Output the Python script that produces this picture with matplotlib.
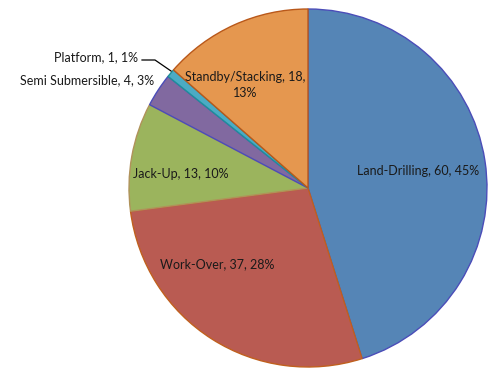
import matplotlib.pyplot as plt

categories = ['Land-Drilling', 'Work-Over', 'Jack-Up', 'Semi Submersible', 'Platform', 'Standby/Stacking']
values = [60, 37, 13, 4, 1, 18]
percents = [45, 28, 10, 3, 1, 13]

colors = ['#5585B6', '#B95B52', '#9BB45D', '#8169A0', '#4BABC4', '#E5974F']
edges = ['#4B4DB8', '#C0601E', '#B0925A', '#4B4DB8', '#1E8F9A', '#B9581A']

plt.rcParams['font.family'] = ['Lato', 'DejaVu Sans']

fig = plt.figure(figsize=(4.97, 3.70), dpi=100)
ax = fig.add_axes([0, 0, 1, 1])
ax.set_xlim(0, 497)
ax.set_ylim(0, 370)
ax.set_aspect('equal')
ax.axis('off')

wedges, _ = ax.pie(values, colors=colors, startangle=90, counterclock=False,
                   center=(308, 182), radius=179, frame=True,
                   wedgeprops=dict(linewidth=1.0))
for w, ec in zip(wedges, edges):
    w.set_edgecolor(ec)
ax.set_xlim(0, 497)
ax.set_ylim(0, 370)
ax.axis('off')

labels = [f'{c}, {v}, {p}%' for c, v, p in zip(categories, values, percents)]
labels[5] = f'{categories[5]}, {values[5]},\n{percents[5]}%'

# label anchors (x, y, ha)
pos = [(418, 199, 'center'), (217, 106, 'center'), (181, 196, 'center'),
       (154, 290, 'right'), (138, 313, 'right'), (245, 285, 'center')]
for lab, (x, y, ha) in zip(labels, pos):
    ax.text(x, y, lab, ha=ha, va='center', fontsize=9, color='#1a1a1a',
            multialignment='center', linespacing=1.35)

ax.plot([142, 155, 171], [310, 310, 299], color='black', linewidth=0.9)

fig.savefig('out.png', dpi=100)
